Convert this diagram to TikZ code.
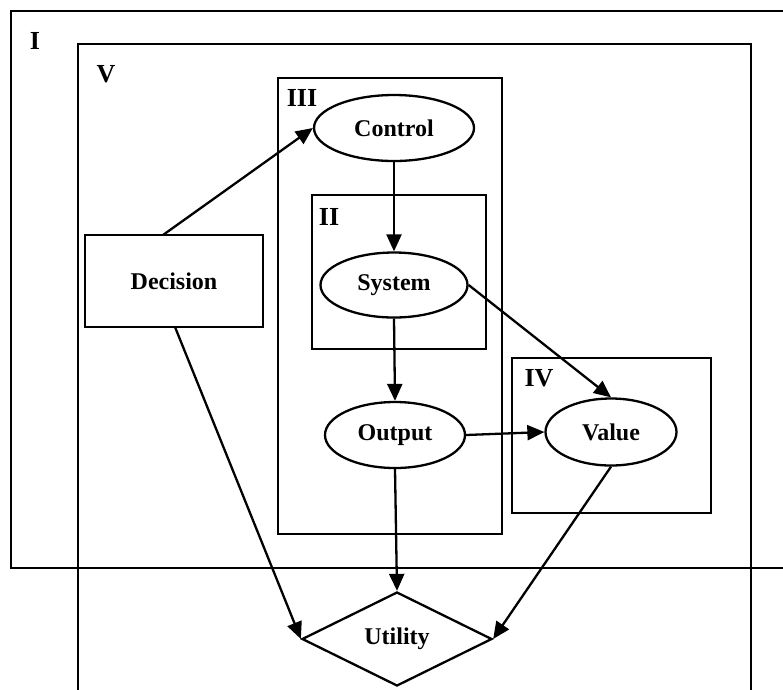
\documentclass[tikz,border=0pt]{standalone}
\usepackage{fontspec}
\setmainfont{Liberation Serif}
\usetikzlibrary{shapes.geometric,arrows.meta}
\begin{document}
\begin{tikzpicture}[x=1pt,y=-1pt,
  every node/.style={font=\fontsize{24}{27}\selectfont\bfseries},
  frame/.style={draw,line width=2.3pt},
  oval/.style={draw,line width=2.3pt,ellipse,inner sep=0pt},
  lbl/.style={inner sep=0pt,font=\fontsize{26}{29}\selectfont\bfseries},
  conn/.style={line width=2.3pt,-{Triangle[length=17pt,width=15pt]}}]
\useasboundingbox (0,0) rectangle (783,689);
% frames
\draw[frame] (11,11) rectangle (795,568);
\draw[frame] (78,44) rectangle (751,705);
\draw[frame] (278,78) rectangle (502,534);
\draw[frame] (312,195) rectangle (486,349);
\draw[frame] (512,358) rectangle (711,513);
% frame labels
\node[lbl] (lI) at (35,41) {I};
\node[lbl] (lV) at (106,74) {V};
\node[lbl] (lIII) at (302,98) {III};
\node[lbl] (lII) at (329,217) {II};
\node[lbl] (lIV) at (539,378) {IV};
% nodes
\node[draw,line width=2.3pt,minimum width=178pt,minimum height=92pt,inner sep=0pt] (dec) at (174,281) {Decision};
\node[oval,minimum width=160pt,minimum height=66pt] (ctl) at (394,128) {Control};
\node[oval,minimum width=147pt,minimum height=65pt] (sys) at (394,285) {System};
\node[oval,minimum width=140pt,minimum height=66pt] (out) at (395,435) {Output};
\node[oval,minimum width=131pt,minimum height=67pt] (val) at (611,432) {Value};
\node[draw,line width=2.3pt,diamond,aspect=2.02,inner sep=0pt,minimum width=190pt,minimum height=94pt] (utl) at (397,639) {Utility};
% connectors
\coordinate (decT) at (163,235);
\coordinate (decB) at (175,327);
\draw[conn] (decT) -- (ctl.west);
\draw[conn] (decB) -- (utl.west);
\draw[conn] (ctl.south) -- (sys.north);
\draw[conn] (sys.south) -- (out.north);
\draw[conn] (sys.east) -- (val.north);
\draw[conn] (out.east) -- (val.west);
\draw[conn] (out.south) -- (utl.north);
\draw[conn] (val.south) -- (utl.east);
\end{tikzpicture}
\end{document}
